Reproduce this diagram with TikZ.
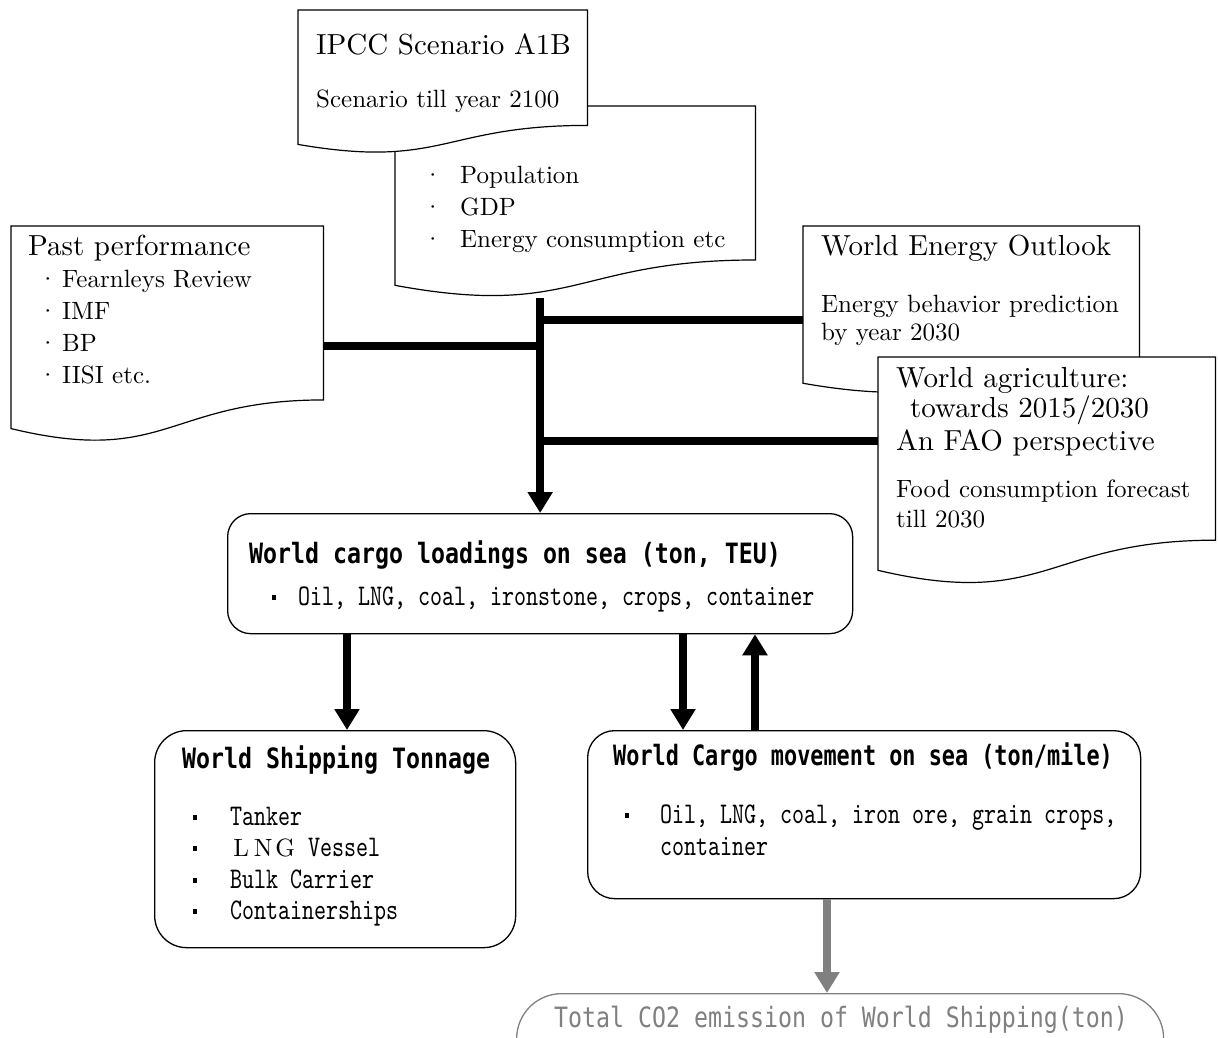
\documentclass[tikz,border=0pt]{standalone}
\usepackage{fontspec}
\usepackage{xcolor}
\usepackage{tikz}
\usetikzlibrary{shapes,arrows.meta,positioning,calc}

\setmainfont{lmroman10-regular.otf}
\newfontfamily\gothic[FakeStretch=0.83]{DejaVu Sans Mono}
\newfontfamily\gothicnarrow[FakeStretch=0.78]{DejaVu Sans Mono}
\newfontfamily\mincho[FakeStretch=0.762]{lmmono10-regular.otf}
\definecolor{co2grey}{RGB}{128,128,128}

% document shape with a wavy bottom, drawn round an empty frame node
\newcommand{\docoutline}[1]{%
  \draw[docline] (#1.north west) -- (#1.north east)
    -- ($(#1.north east)!0.802!(#1.south east)$)
    .. controls ($(#1.north)!0.802!(#1.south)$) and ($(#1.north)!1.1075!(#1.south)$)
    .. ($(#1.north west)!0.934!(#1.south west)$) -- cycle;}
\newcommand{\dotbul}[1]{\makebox[#1][l]{\textperiodcentered}}
\newcommand{\sqbul}[1]{\makebox[#1][l]{\rule[5.5pt]{4pt}{5pt}}}
\newcommand{\fwletters}{{\rmfamily\fontsize{25}{30}\selectfont\makebox[22pt]{L}\makebox[22pt]{N}\makebox[22pt]{G}}}

\begin{document}
\begin{tikzpicture}[
    x=1pt, y=-1pt,
    docframe/.style={draw=none, inner sep=0pt, anchor=north west},
    docline/.style={draw, line width=1.2pt, fill=white},
    roundbox/.style={draw, line width=1.3pt, fill=white, inner sep=0pt, anchor=north west},
    heading/.style={font=\fontsize{29}{34}\selectfont, anchor=base west, inner sep=0pt},
    body/.style={font=\fontsize{25}{30}\selectfont, anchor=base west, inner sep=0pt},
    boxtitle/.style={font=\gothic\bfseries\fontsize{28}{32}\selectfont, anchor=base west, inner sep=0pt},
    boxitem/.style={font=\mincho\fontsize{30}{34}\selectfont, anchor=base west, inner sep=0pt},
    bigline/.style={line width=8pt},
    bigarrow/.style={line width=8pt, -{Triangle[length=21pt, width=24pt]}},
    greyarrow/.style={bigarrow, draw=co2grey}
]
    \useasboundingbox (0,0) rectangle (1218,1038);

    % scenario sources
    \node[docframe, minimum width=360pt, minimum height=191.6pt] (scen) at (395,106) {};
    \docoutline{scen}
    \foreach \txt [count=\i] in {Population, GDP, Energy consumption etc}
        \node[body] (scen-\i) at (423,{151+32*\i}) {\dotbul{37pt}\txt};

    \node[docframe, minimum width=289pt, minimum height=143.5pt] (ipcc) at (298,10) {};
    \docoutline{ipcc}
    \node[heading] (ipcc-title) at (316,55) {IPCC Scenario A1B};
    \node[body] (ipcc-sub) at (316,108) {Scenario till year 2100};

    \node[docframe, minimum width=312pt, minimum height=216.5pt] (past) at (11,226) {};
    \docoutline{past}
    \node[heading] (past-title) at (28,255) {Past performance};
    \foreach \txt [count=\i] in {Fearnleys Review, IMF, BP, IISI etc.}
        \node[body] (past-\i) at (38,{255+32*\i}) {\dotbul{24pt}\txt};

    \node[docframe, minimum width=336pt, minimum height=168pt] (weo) at (803,226) {};
    \docoutline{weo}
    \node[heading] (weo-title) at (821,255) {World Energy Outlook};
    \node[body] (weo-1) at (821,312) {Energy behavior prediction};
    \node[body] (weo-2) at (821,340) {by year 2030};

    \node[docframe, minimum width=337pt, minimum height=228pt] (fao) at (878,357) {};
    \docoutline{fao}
    \node[heading] (fao-1) at (896,387) {World agriculture:};
    \node[heading] (fao-2) at (910,417) {towards 2015/2030};
    \node[heading] (fao-3) at (896,450) {An FAO perspective};
    \node[body] (fao-4) at (896,497) {Food consumption forecast};
    \node[body] (fao-5) at (896,527) {till 2030};

    % model boxes
    \node[roundbox, minimum width=625pt, minimum height=120pt, rounded corners=23pt] (cargo) at (227,513) {};
    \node[boxtitle] (cargo-title) at (249,563) {World cargo loadings on sea (ton, TEU)};
    \node[boxitem] (cargo-1) at (272,605) {\sqbul{26pt}Oil, LNG, coal, ironstone, crops, container};

    \node[roundbox, minimum width=361pt, minimum height=217pt, rounded corners=32pt] (tonnage) at (154,730) {};
    \node[boxtitle] (tonnage-title) at (182,768) {World Shipping Tonnage};
    \node[boxitem] (tonnage-1) at (193,825) {\sqbul{37pt}Tanker};
    \node[boxitem] (tonnage-2) at (193,856.5) {\sqbul{37pt}\fwletters{} Vessel};
    \node[boxitem] (tonnage-3) at (193,888) {\sqbul{37pt}Bulk Carrier};
    \node[boxitem] (tonnage-4) at (193,919.5) {\sqbul{37pt}Containerships};

    \node[roundbox, minimum width=553pt, minimum height=168pt, rounded corners=27pt] (movement) at (587,730) {};
    \node[boxtitle, font=\gothicnarrow\bfseries\fontsize{28}{32}\selectfont] (movement-title) at (613,765) {World Cargo movement on sea (ton/mile)};
    \node[boxitem] (movement-1) at (625,823) {\sqbul{35pt}Oil, LNG, coal, iron ore, grain crops,};
    \node[boxitem] (movement-2) at (660,855) {container};

    \node[roundbox, draw=co2grey, minimum width=647pt, minimum height=90pt, rounded corners=45pt] (co2) at (516,993) {};
    \node[boxtitle, font=\gothic\fontsize{28}{32}\selectfont, text=co2grey] (co2-title) at (554,1027) {Total CO2 emission of World Shipping(ton)};

    % connectors
    \draw[bigline] ($(past.north east)+(0,120)$) coordinate (past-join) -- (past-join -| cargo.north);
    \draw[bigline] ($(weo.north west)+(0,94)$) coordinate (weo-join) -- (weo-join -| cargo.north);
    \draw[bigline] ($(fao.north west)+(0,84)$) coordinate (fao-join) -- (fao-join -| cargo.north);
    \draw[bigarrow] (scen.south -| cargo.north) -- (cargo.north);
    \draw[bigarrow] ([xshift=120pt]cargo.south west) -- ([xshift=193pt]tonnage.north west);
    \draw[bigarrow] ([xshift=456pt]cargo.south west) -- ([xshift=96pt]movement.north west);
    \draw[bigarrow] ([xshift=168pt]movement.north west) -- ([xshift=528pt]cargo.south west);
    \draw[greyarrow] ([xshift=240pt]movement.south west) -- ([xshift=311pt]co2.north west);
\end{tikzpicture}
\end{document}
